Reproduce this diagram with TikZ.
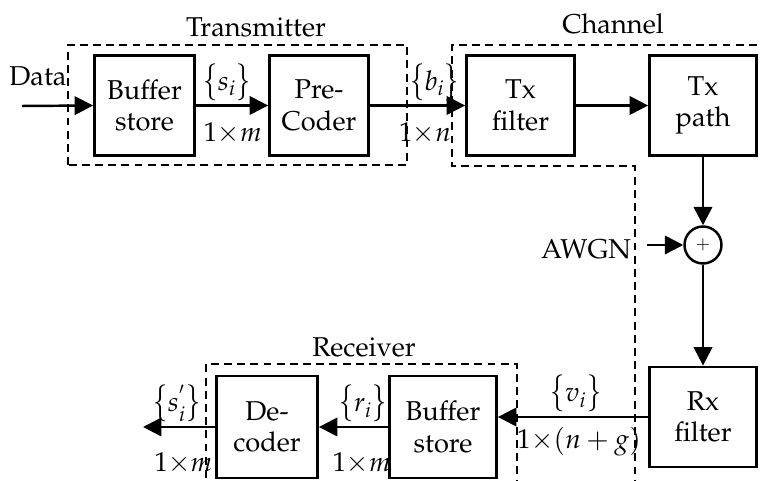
\documentclass[tikz,border=0pt]{standalone}
\usepackage[T1]{fontenc}
\usepackage{mathpazo}
\usepackage{amsmath}
\usetikzlibrary{arrows.meta,calc,positioning}

% tall braces round a signal name
\newcommand{\sigset}[1]{\raisebox{-0.6pt}{\scalebox{1}[1.3]{$\{$}}#1\raisebox{-0.6pt}{\scalebox{1}[1.3]{$\}$}}}

\begin{document}
\begin{tikzpicture}[
        font=\fontsize{15.5}{18}\selectfont,
        block/.style={draw, line width=1.6pt, minimum height=2.0cm, align=center, inner sep=0pt},
        group/.style={draw, line width=1.3pt, dash pattern=on 4.5pt off 3pt},
        sig/.style={-{Triangle[length=10.5pt,width=10.5pt]}, line width=1.4pt},
        lbl/.style={inner sep=1pt}
    ]

    \useasboundingbox (0,0) rectangle (15.24,9.62);

    % transmitter
    \node[block, minimum width=2.0cm] (buf) at (2.89,7.51) {Buffer\\store};
    \node[block, minimum width=1.98cm] (pre) at (6.38,7.51) {Pre-\\Coder};

    \draw[group] (1.36,6.32) rectangle (8.14,8.72);
    \node (tx) at (5.12,9.07) {Transmitter};

    % channel
    \node[block, minimum width=2.16cm] (txf) at (10.41,7.51) {Tx\\filter};
    \node[block, minimum width=2.14cm] (txp) at (14.06,7.51) {Tx\\path};
    \node[draw, circle, line width=1.4pt, minimum size=0.74cm, inner sep=0pt,
        font=\fontsize{10}{12}\selectfont] (sum) at (14.06,4.72) {$+$};
    \node[block, minimum width=2.14cm] (rxf) at (14.06,1.28) {Rx\\filter};

    \draw[group]
        (15.4,8.72) --
        (9.04,8.72) --
        (9.04,6.3) --
        (12.7,6.3) --
        (12.7,-0.2);
    \node (ch) at (12.26,9.14) {Channel};

    \node (awgn) at (11.72,4.64) {AWGN};
    \coordinate (noise) at (12.94,4.72);

    % receiver
    \node[block, minimum width=2.14cm, minimum height=2.04cm] (rbuf) at (8.86,1.08) {Buffer\\store};
    \node[block, minimum width=2.02cm, minimum height=2.04cm] (dec) at (5.34,1.08) {De-\\coder};

    \draw[group]
        (4.12,-0.2) |-
        (10.34,2.34) --
        (10.34,-0.2);
    \node (rx) at (7.28,2.68) {Receiver};

    % data in and out
    \node (data) at (0.76,8.1) {Data};
    \coordinate (in) at (0.44,7.5);
    \coordinate (out) at (2.86,1.08);

    % signals
    \draw[sig] (in) -- (buf.west);

    \draw[sig]
        (buf.east) --
        (pre.west)
        node[lbl, pos=0.43, above=0.04cm] (s) {$\sigset{s_i}$}
        node[lbl, pos=0.51, below=0.28cm] (sdim) {$1{\times}m$};

    \draw[sig]
        (pre.east) --
        (txf.west)
        node[lbl, pos=0.68, above=0.04cm] (b) {$\sigset{b_i}$}
        node[lbl, pos=0.58, below=0.28cm] (bdim) {$1{\times}n$};

    \draw[sig] (txf.east) -- (txp.west);
    \draw[sig] (txp.south) -- (sum.north);
    \draw[sig] (noise) -- (sum.west);
    \draw[sig] (sum.south) -- (rxf.north);

    \draw[sig]
        (rxf.west) --
        (rxf.west -| rbuf.east)
        node[lbl, pos=0.48, above=0.04cm] (v) {$\sigset{v_i}$}
        node[lbl, pos=0.46, below=0.14cm] (vdim) {$1{\times}(n+g)$};

    \draw[sig]
        (rbuf.west) --
        (dec.east)
        node[lbl, pos=0.36, above=0.04cm] (r) {$\sigset{r_i}$}
        node[lbl, pos=0.38, below=0.46cm] (rdim) {$1{\times}m$};

    \draw[sig]
        (dec.west) --
        (out)
        node[lbl, pos=0.53, above=0.04cm] (so) {$\sigset{s_i^{'}}$}
        node[lbl, pos=0.44, below=0.46cm] (sodim) {$1{\times}m$};

\end{tikzpicture}
\end{document}
